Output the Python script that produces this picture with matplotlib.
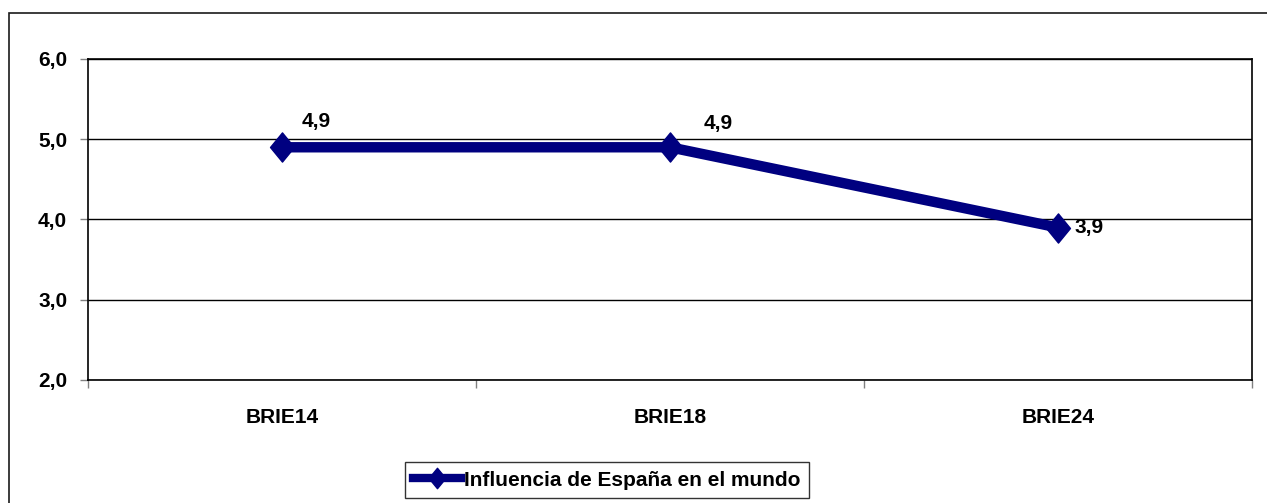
import matplotlib
matplotlib.use("Agg")
import matplotlib.pyplot as plt
from matplotlib.patches import Rectangle
from matplotlib.path import Path
import numpy as np

categories = ["BRIE14", "BRIE18", "BRIE24"]
values = [4.9, 4.9, 3.9]
series_name = "Influencia de España en el mundo"
yticks = [2.0, 3.0, 4.0, 5.0, 6.0]

plt.rcParams['font.family'] = ['Liberation Sans', 'DejaVu Sans']
plt.rcParams['font.weight'] = 'bold'

FS = 15
W, H = 1267, 503
fig = plt.figure(figsize=(W / 100, H / 100), dpi=100)
fig.patch.set_facecolor('white')

# outer chart border (only left/top visible)
fig.patches.append(Rectangle((9 / W, -0.1), 1.2, 1 - 13 / H + 0.1, transform=fig.transFigure,
                             fill=False, edgecolor='#1a1a1a', linewidth=1.2))

ax = fig.add_axes([88 / W, 1 - 380 / H, (1252 - 88) / W, (380 - 59) / H])
x = np.arange(len(categories))

diamond = Path([(0, 1), (0.82, 0), (0, -1), (-0.82, 0), (0, 1)],
               [Path.MOVETO, Path.LINETO, Path.LINETO, Path.LINETO, Path.CLOSEPOLY])

line, = ax.plot(x, values, color='#000080', linewidth=7.5, marker=diamond,
                markersize=21, markerfacecolor='#000080', markeredgecolor='#000080',
                solid_joinstyle='miter', label=series_name, zorder=3)

offsets = [((14, 12), 'left', 'bottom'), ((24, 10), 'left', 'bottom'), ((12, 0), 'left', 'center')]
for xi, v, (off, ha, va) in zip(x, values, offsets):
    ax.annotate(f"{v:.1f}".replace('.', ','), (xi, v), xytext=off, textcoords='offset points',
                ha=ha, va=va, fontsize=FS, fontweight='bold', color='black', zorder=4)

ax.set_xlim(-0.5, len(categories) - 0.5)
ax.set_ylim(yticks[0], yticks[-1])
ax.set_yticks(yticks)
ax.set_yticklabels([f"{t:.1f}".replace('.', ',') for t in yticks], fontsize=FS, fontweight='bold')
ax.yaxis.grid(True, color='black', linewidth=1)
ax.set_axisbelow(True)

ax.set_xticks(np.arange(-0.5, len(categories), 1.0))
ax.set_xticklabels([])
ax.set_xticks(x, minor=True)
ax.set_xticklabels(categories, minor=True, fontsize=FS, fontweight='bold')
ax.tick_params(axis='x', which='minor', length=0, pad=20)
ax.tick_params(axis='x', which='major', length=6, color='#808080', width=1, direction='out')
ax.tick_params(axis='y', length=6, color='#808080', width=1, direction='out', pad=9)

for s in ax.spines.values():
    s.set_color('black')
    s.set_linewidth(1.2)

leg = fig.legend(handles=[line], loc='center', bbox_to_anchor=(607 / W, 1 - 480 / H),
                 frameon=True, fancybox=False, shadow=False, fontsize=FS,
                 handlelength=2.3, handletextpad=0.15, borderpad=0.4, borderaxespad=0,
                 markerscale=0.7)
leg.get_frame().set_edgecolor('black')
leg.get_frame().set_linewidth(1)
for t in leg.get_texts():
    t.set_fontweight('bold')
for h in leg.legend_handles:
    h.set_linewidth(6)

fig.savefig("out.png", dpi=100)
